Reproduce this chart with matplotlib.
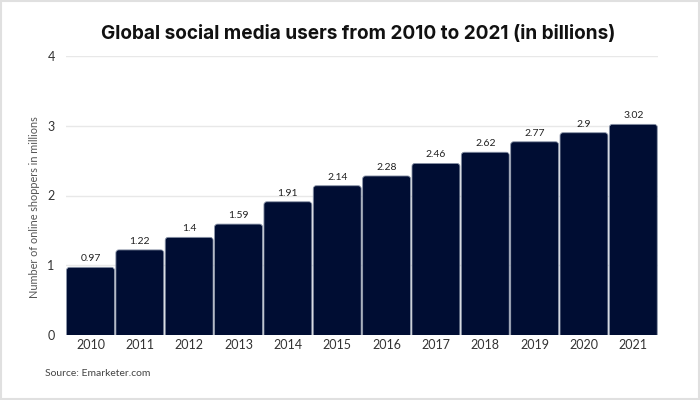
import matplotlib.pyplot as plt
from matplotlib.patches import FancyBboxPatch

years = ["2010", "2011", "2012", "2013", "2014", "2015", "2016", "2017", "2018", "2019", "2020", "2021"]
users = [0.97, 1.22, 1.4, 1.59, 1.91, 2.14, 2.28, 2.46, 2.62, 2.77, 2.9, 3.02]
labels = ["0.97", "1.22", "1.4", "1.59", "1.91", "2.14", "2.28", "2.46", "2.62", "2.77", "2.9", "3.02"]

plt.rcParams['font.family'] = ['Lato', 'DejaVu Sans']

fig = plt.figure(figsize=(7, 4), dpi=100)
ax = fig.add_axes([0.094, 0.1625, 0.846, 0.6975])

xs = list(range(len(years)))
bw = 0.97
for x, v in zip(xs, users):
    p = FancyBboxPatch((x - bw / 2, -0.1), bw, v + 0.1,
                       boxstyle="round,pad=0,rounding_size=0.06",
                       mutation_aspect=0.707,
                       facecolor='#000d33', edgecolor='#8a94a8', linewidth=0.6,
                       zorder=3, clip_on=True)
    ax.add_patch(p)

for x, v, t in zip(xs, users, labels):
    ax.text(x, v + 0.06, t, ha='center', va='bottom', fontsize=7.5, color='#222222')

ax.set_xlim(-0.5, len(years) - 0.5)
ax.set_ylim(0, 4)
ax.set_yticks([0, 1, 2, 3, 4])
ax.set_xticks(xs)
ax.set_xticklabels(years)
ax.tick_params(axis='both', length=0, labelsize=9, colors='#333333')
ax.tick_params(axis='y', pad=8)
ax.tick_params(axis='x', pad=3)
ax.grid(axis='y', color='#e8e8e8', linewidth=1, zorder=0)
ax.set_axisbelow(True)
for s in ax.spines.values():
    s.set_visible(False)

ax.set_ylabel("Number of online shoppers in millions", fontsize=7.8, color='#555555')
ax.yaxis.set_label_coords(-0.043, 0.46)

fig.text(0.511, 0.914, "Global social media users from 2010 to 2021 (in billions)",
         ha='center', va='center', fontsize=13.7, fontweight='bold', color='#111111',
         family=['Inter', 'DejaVu Sans'])
fig.text(0.064, 0.067, "Source: Emarketer.com", ha='left', va='center', fontsize=7.5, color='#444444')

# thin frame around the image
fig.patches.append(plt.Rectangle((0.001, 0.002), 0.997, 0.995, transform=fig.transFigure,
                                 fill=False, edgecolor='#e0e0e0', linewidth=1.5))

fig.savefig("out.png", dpi=100)
